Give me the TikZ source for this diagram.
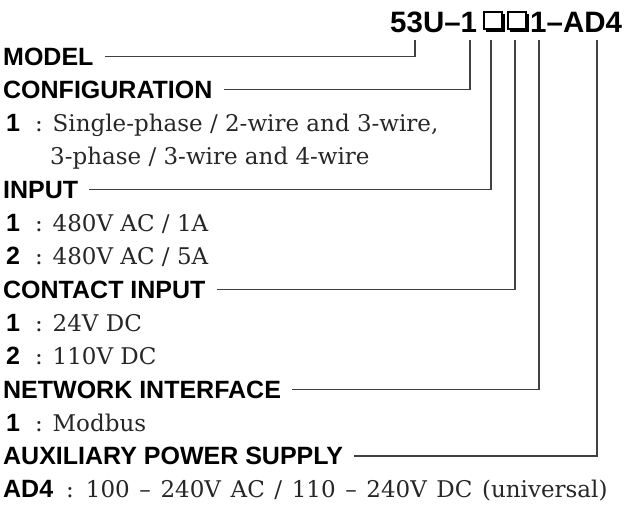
\documentclass[tikz,border=0pt]{standalone}
\usepackage{fontspec}
\newfontfamily\labfont{Liberation Sans}
\newfontfamily\valfont{DejaVu Serif}
\begin{document}
\begin{tikzpicture}[x=1pt,y=-1pt,
  lab/.style={font=\labfont\bfseries\fontsize{25}{30}\selectfont, inner sep=0pt, anchor=base west},
  val/.style={font=\valfont\fontsize{23}{28}\selectfont, inner sep=0pt, anchor=base west, text=black!85},
  head/.style={font=\labfont\bfseries\fontsize{29.5}{36}\selectfont, inner sep=0pt},
  conn/.style={draw=black!75, line width=1.3pt},
  boxline/.style={draw=black, line width=1.7pt},
  boxshadow/.style={fill=black},
]
\useasboundingbox (0,0) rectangle (624,506);

% header
\node[head, anchor=base west] (h1) at (390,32) {53U–1};
\node[head, anchor=base west] (h2) at (530,32) {1–AD4};
\foreach \bx in {483,507} {
  \draw[boxline] (\bx+0.85,11.85) rectangle (\bx+18.8,29.2);
  \fill[boxshadow] (\bx+3,28.4) rectangle (\bx+22,32.2);
  \fill[boxshadow] (\bx+18,14) rectangle (\bx+22,32.2);
}

% top ends of connectors
\coordinate (t0) at (415,40);
\coordinate (t1) at (470,40);
\coordinate (t4) at (491,40);
\coordinate (t7) at (515,40);
\coordinate (t10) at (539,40);
\coordinate (t12) at (597,40);

% rows: baseline = 65 + 33.3 i
\node[lab] (model) at (3,65) {MODEL};
\node[lab] (config) at (3,98.3) {CONFIGURATION};
\node[lab] (c1k) at (6,131.6) {1};
\node[val] (c1v) at (35,131.6) {: Single-phase / 2-wire and 3-wire,};
\node[val] (c1w) at (50,164.9) {3-phase / 3-wire and 4-wire};
\node[lab] (input) at (3,198.2) {INPUT};
\node[lab] (i1k) at (6,231.5) {1};
\node[val] (i1v) at (35,231.5) {: 480V AC / 1A};
\node[lab] (i2k) at (6,264.8) {2};
\node[val] (i2v) at (35,264.8) {: 480V AC / 5A};
\node[lab] (contact) at (3,298.1) {CONTACT INPUT};
\node[lab] (k1k) at (6,331.4) {1};
\node[val] (k1v) at (35,331.4) {: 24V DC};
\node[lab] (k2k) at (6,364.7) {2};
\node[val] (k2v) at (35,364.7) {: 110V DC};
\node[lab] (network) at (3,398) {NETWORK INTERFACE};
\node[lab] (n1k) at (6,431.3) {1};
\node[val] (n1v) at (35,431.3) {: Modbus};
\node[lab] (aux) at (3,464.6) {AUXILIARY POWER SUPPLY};
\node[lab] (a1k) at (3,497.9) {AD4};
\node[val] (a1v) at (66,497.9) {\spaceskip=9.6pt\relax : 100 – 240V AC / 110 – 240V DC (universal)};

% connectors
\foreach \n/\t in {model/t0, config/t1, input/t4, contact/t7, network/t10, aux/t12} {
  \draw[conn] ([xshift=11pt,yshift=8.5pt]\n.base east) -- ([yshift=8.5pt]\n.base east -| \t) -- (\t);
}
\end{tikzpicture}
\end{document}
